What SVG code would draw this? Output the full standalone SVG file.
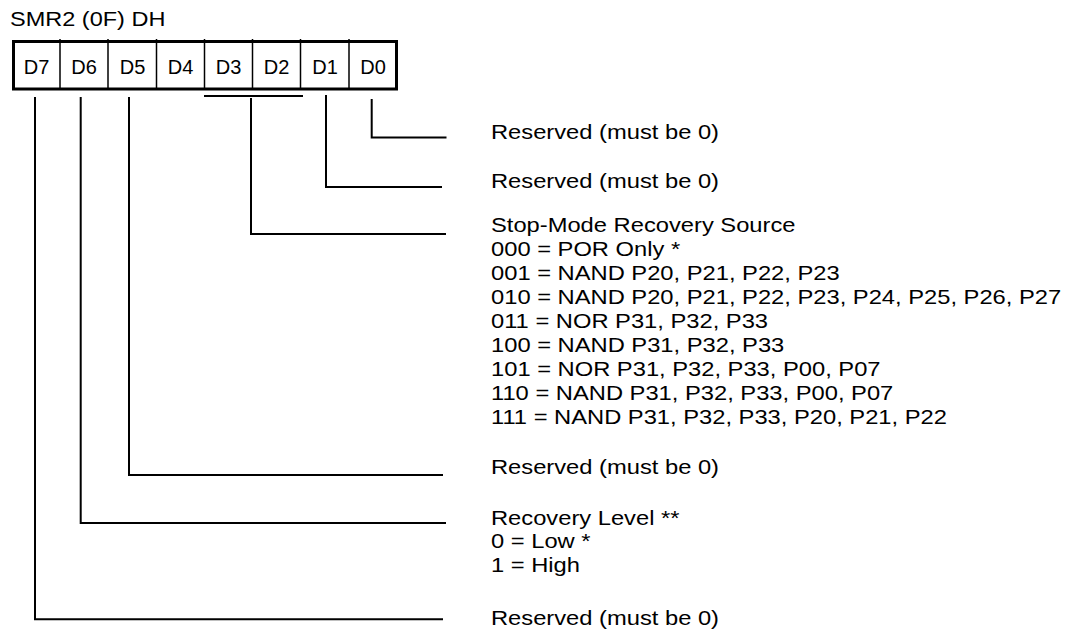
<svg xmlns="http://www.w3.org/2000/svg" width="1072" height="634" viewBox="0 0 1072 634">
<style>
text{font-family:"Liberation Sans",Arial,sans-serif;fill:#000}
.t{font-size:21px}
.b{font-size:20px;text-anchor:middle}
.c{fill:none;stroke:#000;stroke-width:2}
.d{stroke:#000;stroke-width:1.5}
</style>
<rect width="1072" height="634" fill="#fff"/>
<g id="title" transform="translate(10,26) scale(1.12,1)"><text class="t" x="0" y="0">SMR2 (0F) DH</text></g>
<g id="register">
<rect x="13.5" y="41.5" width="383" height="47.5" fill="none" stroke="#000" stroke-width="3"/>
<line class="d" x1="60" y1="39" x2="60" y2="89"/>
<line class="d" x1="108" y1="39" x2="108" y2="89"/>
<line class="d" x1="156.5" y1="39" x2="156.5" y2="89"/>
<line class="d" x1="204.5" y1="39" x2="204.5" y2="89"/>
<line class="d" x1="252.5" y1="39" x2="252.5" y2="89"/>
<line class="d" x1="300.5" y1="39" x2="300.5" y2="89"/>
<line class="d" x1="349" y1="39" x2="349" y2="89"/>
<text class="b" x="36.5" y="74">D7</text>
<text class="b" x="84" y="74">D6</text>
<text class="b" x="132.5" y="74">D5</text>
<text class="b" x="180.5" y="74">D4</text>
<text class="b" x="228.5" y="74">D3</text>
<text class="b" x="276.5" y="74">D2</text>
<text class="b" x="325" y="74">D1</text>
<text class="b" x="373" y="74">D0</text>
</g>
<g id="connectors">
<path class="c" d="M204 96H303"/>
<path class="c" d="M371.7 99V137.5H446.5"/>
<path class="c" d="M326 95V187H442"/>
<path class="c" d="M251 98V234H446"/>
<path class="c" d="M129 97V475H443"/>
<path class="c" d="M80.7 97V523H446"/>
<path class="c" d="M35 97V619.3H443"/>
</g>
<g id="d0-label" transform="translate(491,0) scale(1.13,1)"><text class="t" x="0" y="139">Reserved (must be 0)</text></g>
<g id="d1-label" transform="translate(491,0) scale(1.13,1)"><text class="t" x="0" y="188.5">Reserved (must be 0)</text></g>
<g id="d32-label" transform="translate(491,0) scale(1.13,1)">
<text class="t" x="0" y="232.5">Stop-Mode Recovery Source</text>
<text class="t" x="0" y="256.5">000 = POR Only *</text>
<text class="t" x="0" y="280.5">001 = NAND P20, P21, P22, P23</text>
<text class="t" x="0" y="304.5">010 = NAND P20, P21, P22, P23, P24, P25, P26, P27</text>
<text class="t" x="0" y="328.5">011 = NOR P31, P32, P33</text>
<text class="t" x="0" y="352.5">100 = NAND P31, P32, P33</text>
<text class="t" x="0" y="376.5">101 = NOR P31, P32, P33, P00, P07</text>
<text class="t" x="0" y="400.5">110 = NAND P31, P32, P33, P00, P07</text>
<text class="t" x="0" y="424.5">111 = NAND P31, P32, P33, P20, P21, P22</text>
</g>
<g id="d5-label" transform="translate(491,0) scale(1.13,1)"><text class="t" x="0" y="474.5">Reserved (must be 0)</text></g>
<g id="d6-label" transform="translate(491,0) scale(1.13,1)">
<text class="t" x="0" y="525">Recovery Level **</text>
<text class="t" x="0" y="548.5">0 = Low *</text>
<text class="t" x="0" y="572">1 = High</text>
</g>
<g id="d7-label" transform="translate(491,0) scale(1.13,1)"><text class="t" x="0" y="625">Reserved (must be 0)</text></g>
</svg>
